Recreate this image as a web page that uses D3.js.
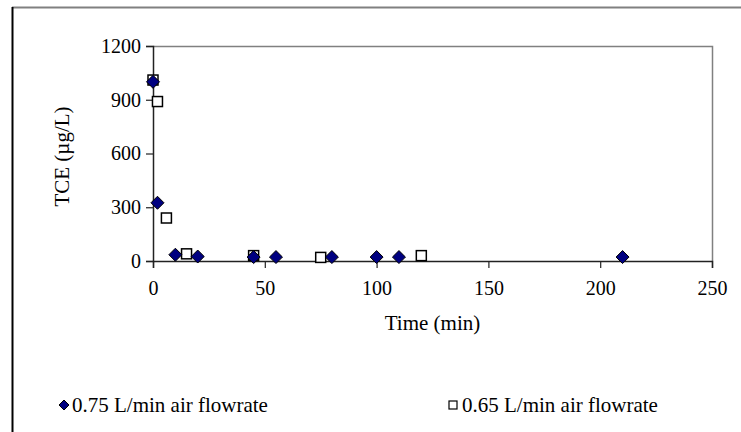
<!DOCTYPE html>
<html><head><meta charset="utf-8">
<script src="https://cdn.jsdelivr.net/npm/d3@7"></script>
<style>body{margin:0;background:#fff}svg{display:block}</style>
</head><body>
<svg id="c" width="741" height="432"></svg>
<script>
const series1Name = "0.75 L/min air flowrate";
const series1Time = [0, 2, 10, 20, 45, 55, 80, 100, 110, 210];
const series1TCE  = [1000, 325, 35, 25, 22, 22, 22, 22, 22, 22];
const series2Name = "0.65 L/min air flowrate";
const series2Time = [0, 2, 6, 15, 45, 75, 120];
const series2TCE  = [1010, 890, 240, 40, 30, 20, 30];
const xTicks = [0, 50, 100, 150, 200, 250];
const yTicks = [0, 300, 600, 900, 1200];
const xTitle = "Time (min)";
const yTitle = "TCE (\u00b5g/L)";

const svg = d3.select("#c");
const font = "'Liberation Serif','Times New Roman',serif";
const fs = 20, fsT = 21;
svg.append("rect").attr("width",741).attr("height",432).attr("fill","#fff");
// outer frame
svg.append("line").attr("x1",12).attr("x2",741).attr("y1",7.5).attr("y2",7.5).attr("stroke","#808080").attr("stroke-width",2);
svg.append("line").attr("x1",12.5).attr("x2",12.5).attr("y1",7).attr("y2",432).attr("stroke","#000").attr("stroke-width",2);

const L=153, R=712, T=46, B=261;
const x = d3.scaleLinear().domain([0,250]).range([L,R]);
const y = d3.scaleLinear().domain([0,1200]).range([B,T]);

// plot area border (top & right)
svg.append("path").attr("d",`M${L},${T+0.5}H${R+0.5}V${B}`).attr("fill","none").attr("stroke","#808080").attr("stroke-width",1.5);

const xa = svg.append("g").attr("transform",`translate(0,${B})`)
  .call(d3.axisBottom(x).tickValues(xTicks).tickSize(7).tickPadding(13).tickFormat(d3.format("d")));
const ya = svg.append("g").attr("transform",`translate(${L},0)`)
  .call(d3.axisLeft(y).tickValues(yTicks).tickSize(7).tickPadding(5).tickFormat(d3.format("d")));
[xa,ya].forEach(a=>{
  a.select(".domain").attr("stroke","#222").attr("stroke-width",1.5);
  a.selectAll(".tick line").attr("stroke","#222").attr("stroke-width",1.2);
  a.selectAll("text").attr("font-family",font).attr("font-size",fs).attr("fill","#000");
});

svg.append("text").attr("x",(L+R)/2).attr("y",330).attr("text-anchor","middle")
  .attr("font-family",font).attr("font-size",fsT).text(xTitle);
svg.append("text").attr("transform",`translate(69,${(T+B)/2 + 3}) rotate(-90)`).attr("text-anchor","middle")
  .attr("font-family",font).attr("font-size",fsT).text(yTitle);

const d2 = series2Time.map((t,i)=>({t,v:series2TCE[i]}));
const d1 = series1Time.map((t,i)=>({t,v:series1TCE[i]}));
const sq = 10, dm = 6.5;
svg.append("g").selectAll("rect").data(d2).join("rect")
  .attr("x",d=>x(d.t)-sq/2).attr("y",d=>y(d.v)-sq/2).attr("width",sq).attr("height",sq)
  .attr("fill","#fff").attr("stroke","#000").attr("stroke-width",1.5);
const diamond = (cx,cy,r)=>`M${cx},${cy-r}L${cx+r},${cy}L${cx},${cy+r}L${cx-r},${cy}Z`;
svg.append("g").selectAll("path").data(d1).join("path")
  .attr("d",d=>diamond(x(d.t),y(d.v),dm))
  .attr("fill","#000080").attr("stroke","#000").attr("stroke-width",1);

// legend
const lg = svg.append("g");
lg.append("path").attr("d",diamond(64,405,5)).attr("fill","#000080").attr("stroke","#000").attr("stroke-width",1);
lg.append("text").attr("x",72).attr("y",412).attr("font-family",font).attr("font-size",fsT).text(series1Name);
lg.append("rect").attr("x",449).attr("y",401).attr("width",8).attr("height",8).attr("fill","#fff").attr("stroke","#000").attr("stroke-width",1.2);
lg.append("text").attr("x",462).attr("y",412).attr("font-family",font).attr("font-size",fsT).text(series2Name);
</script>
</body></html>
